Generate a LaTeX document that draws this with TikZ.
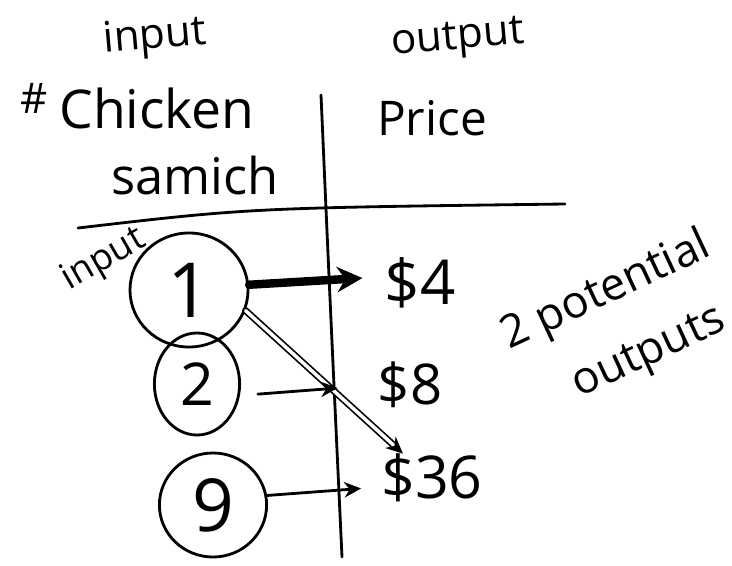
\documentclass[tikz,border=0pt]{standalone}
\usepackage{fontspec}
\setmainfont{Open Sans}
\usetikzlibrary{arrows.meta,shapes.geometric}
\begin{document}
\begin{tikzpicture}[x=0.025cm,y=-0.025cm,
  ink/.style={line width=2pt, line cap=round, line join=round},
  hand/.style={font=\fontsize{#1}{#1}\selectfont, inner sep=0pt},
  num/.style={ellipse, draw, line width=2pt, inner sep=0pt, font=\fontsize{#1}{#1}\selectfont},
  tip/.style={-{Stealth[length=12pt,width=11pt]}}
]
\fill[white] (0,0) rectangle (732,566);
\useasboundingbox (0,0) rectangle (732,566);

% headings
\node[hand=30, rotate=5] (tin) at (155,38) {input};
\node[hand=30] (hash) at (34,98) {\#};
\node[hand=38] (chk) at (157,108) {Chicken};
\node[hand=36] (sam) at (195,176) {samich};
\node[hand=30, rotate=5] (tout) at (458,40) {output};
\node[hand=34] (price) at (432,118) {Price};

% table lines
\coordinate (vtop) at (321,95);
\coordinate (vbot) at (342,557);
\coordinate (hl) at (78,228);
\coordinate (hr) at (565,204);
\draw[ink] (vtop) .. controls (330,300) .. (vbot);
\draw[ink] (hl) .. controls (250,208) .. (hr);

% side label
\node[hand=26, rotate=30] (in2) at (104,260) {input};

% inputs
\node[num=54, minimum width=2.95cm, minimum height=2.85cm] (c1) at (189,290) {1};
\node[num=42, minimum width=2.13cm, minimum height=2.55cm] (c2) at (197,384) {2};
\node[num=52, minimum width=2.68cm, minimum height=2.6cm] (c9) at (213,505) {9};

% outputs
\node[hand=44] (p4) at (420,283) {\$4};
\node[hand=40] (p8) at (410,385) {\$8};
\node[hand=42] (p36) at (432,478) {\$36};

% mappings
\draw[ink, line width=6pt, -{Stealth[length=18pt,width=18pt]}, shorten >=0.55cm] (c1.5) -- (p4.170);
\draw[ink, line width=1.2pt, double, double distance=2.5pt, tip] (c1.-20) -- (p36.140);
\draw[ink, tip, shorten <=0.45cm, shorten >=1.0cm] (c2.-15) -- (p8.west);
\draw[ink, tip, shorten >=0.5cm] (c9.10) -- (p36.190);

% note
\node[font=\fontsize{32}{52}\selectfont, inner sep=0pt, align=center, rotate=25] (pot) at (622,325) {2 potential\\\hspace*{18pt}outputs};
\end{tikzpicture}
\end{document}
